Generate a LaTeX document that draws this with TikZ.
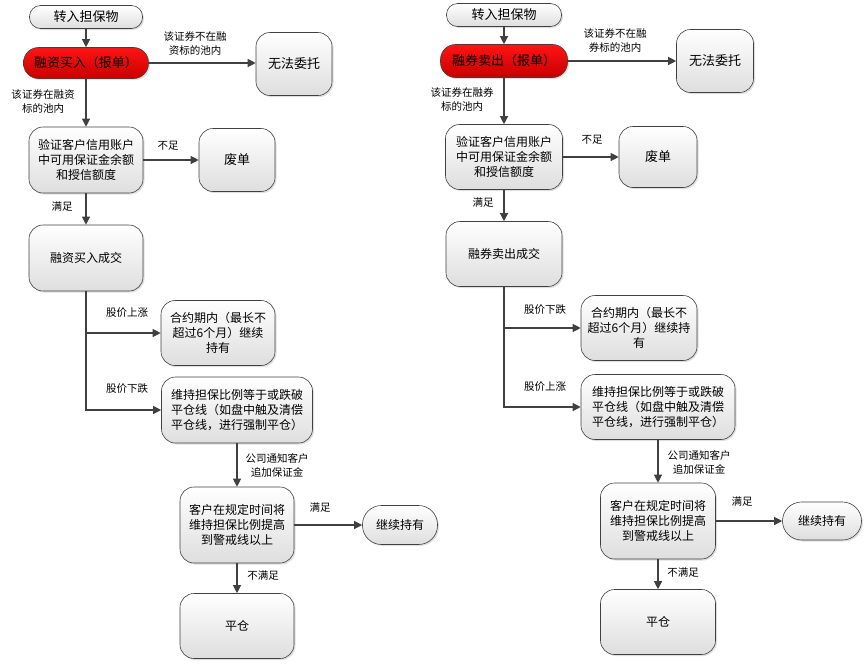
\documentclass[tikz,border=0pt]{standalone}
\usepackage{fontspec}
\setmainfont{Noto Sans CJK SC}
\usepackage{tikz}
\usetikzlibrary{arrows.meta,shapes,positioning,shadows}
\usepackage{xcolor}
\definecolor{lngray}{RGB}{64,64,64}
\definecolor{boxgray}{RGB}{222,222,222}
\definecolor{redtop}{RGB}{255,20,20}
\definecolor{redbot}{RGB}{200,0,0}
\tikzstyle{arrow} = [line width=1.2pt,->,>={Triangle[length=8pt,width=8pt]},color=lngray]
\tikzstyle{box} = [draw=lngray, text=black, line width=0.6pt, rounded corners=14pt, top color=white, bottom color=boxgray, drop shadow={opacity=0.25,shadow xshift=1.5pt,shadow yshift=-1.5pt}, align=center, font=\fontsize{12}{15}\selectfont, inner sep=1pt]
\tikzstyle{pill} = [box, rounded corners=11pt, font=\fontsize{13}{16}\selectfont]
\tikzstyle{redpill} = [pill, top color=redtop, bottom color=redbot, rounded corners=15pt, text=black, font=\fontsize{13}{16}\selectfont\color{black}]
\tikzstyle{lbl} = [align=center, text=black, font=\fontsize{10.5}{14}\selectfont, inner sep=0pt]

\begin{document}
\begin{tikzpicture}[x=1pt, y=-1pt]
\useasboundingbox (0,0) rectangle (867,665);

% ---- left column: margin buying
\node[pill, minimum width=113pt, minimum height=23pt] (startL) at (86,17) {转入担保物};
\node[redpill, minimum width=125pt, minimum height=31pt] (orderL) at (86,63) {\textcolor{black}{融资买入（报单）}};
\node[box, font=\fontsize{13}{16}\selectfont, minimum width=76pt, minimum height=63pt] (failL) at (294,64) {无法委托};
\node[box, minimum width=114pt, minimum height=66pt] (checkL) at (86,160) {验证客户信用账户\\中可用保证金余额\\和授信额度};
\node[box, font=\fontsize{13}{16}\selectfont, minimum width=76pt, minimum height=63pt] (voidL) at (237,160) {废单};
\node[box, minimum width=114pt, minimum height=66pt] (dealL) at (86,258) {融资买入成交};
\node[box, minimum width=114pt, minimum height=65pt] (holdL) at (218,333) {合约期内（最长不\\超过6个月）继续\\持有};
\node[box, minimum width=151pt, minimum height=66pt] (ratioL) at (237,410) {维持担保比例等于或跌破\\平仓线（如盘中触及清偿\\平仓线，进行强制平仓）};
\node[box, minimum width=114pt, minimum height=76pt] (topupL) at (237,525) {客户在规定时间将\\维持担保比例提高\\到警戒线以上};
\node[pill, font=\fontsize{12}{15}\selectfont, rounded corners=19pt, minimum width=75pt, minimum height=39pt] (keepL) at (400,525) {继续持有};
\node[box, minimum width=114pt, minimum height=65pt] (closeL) at (237,626) {平仓};

\node[lbl] (notinL) at (195,43) {该证券不在融\\资标的池内};
\node[lbl] (inL) at (43,101) {该证券在融资\\标的池内};
\node[lbl] (lackL) at (168,146) {不足};
\node[lbl] (okL) at (62,207) {满足};
\node[lbl] (upL) at (127,313) {股价上涨};
\node[lbl] (downL) at (127,389) {股价下跌};
\node[lbl] (callL) at (277,465) {公司通知客户\\追加保证金};
\node[lbl] (metL) at (320,507) {满足};
\node[lbl] (unmetL) at (263,575) {不满足};

\draw[arrow] (startL) -- (orderL);
\draw[arrow] (orderL.east) -- (orderL.east -| failL.west);
\draw[arrow] (orderL) -- (checkL);
\draw[arrow] (checkL) -- (voidL);
\draw[arrow] (checkL) -- (dealL);
\draw[arrow] (dealL.south) |- (holdL.west);
\draw[arrow] (dealL.south) |- (ratioL.west);
\draw[arrow] (ratioL) -- (topupL);
\draw[arrow] (topupL) -- (keepL);
\draw[arrow] (topupL) -- (closeL);

% ---- right column: short selling
\node[pill, minimum width=115pt, minimum height=23pt] (startR) at (504,15) {转入担保物};
\node[redpill, minimum width=127pt, minimum height=33pt] (orderR) at (504,61) {\textcolor{black}{融券卖出（报单）}};
\node[box, font=\fontsize{13}{16}\selectfont, minimum width=77pt, minimum height=63pt] (failR) at (715,61) {无法委托};
\node[box, minimum width=117pt, minimum height=65pt] (checkR) at (504,157) {验证客户信用账户\\中可用保证金余额\\和授信额度};
\node[box, font=\fontsize{13}{16}\selectfont, minimum width=78pt, minimum height=61pt] (voidR) at (658,157) {废单};
\node[box, minimum width=116pt, minimum height=65pt] (dealR) at (504,254) {融券卖出成交};
\node[box, minimum width=116pt, minimum height=65pt] (holdR) at (639,328) {合约期内（最长不\\超过6个月）继续持\\有};
\node[box, minimum width=154pt, minimum height=65pt] (ratioR) at (658,407) {维持担保比例等于或跌破\\平仓线（如盘中触及清偿\\平仓线，进行强制平仓）};
\node[box, minimum width=115pt, minimum height=76pt] (topupR) at (658,521) {客户在规定时间将\\维持担保比例提高\\到警戒线以上};
\node[pill, font=\fontsize{12}{15}\selectfont, rounded corners=19pt, minimum width=79pt, minimum height=38pt] (keepR) at (822,521) {继续持有};
\node[box, minimum width=115pt, minimum height=65pt] (closeR) at (658,622) {平仓};

\node[lbl] (notinR) at (615,40) {该证券不在融\\券标的池内};
\node[lbl] (inR) at (462,99) {该证券在融券\\标的池内};
\node[lbl] (lackR) at (592,140) {不足};
\node[lbl] (okR) at (483,203) {满足};
\node[lbl] (downR) at (545,310) {股价下跌};
\node[lbl] (upR) at (545,387) {股价上涨};
\node[lbl] (callR) at (699,462) {公司通知客户\\追加保证金};
\node[lbl] (metR) at (742,501) {满足};
\node[lbl] (unmetR) at (683,572) {不满足};

\draw[arrow] (startR) -- (orderR);
\draw[arrow] (orderR) -- (failR);
\draw[arrow] (orderR) -- (checkR);
\draw[arrow] (checkR) -- (voidR);
\draw[arrow] (checkR) -- (dealR);
\draw[arrow] (dealR.south) |- (holdR.west);
\draw[arrow] (dealR.south) |- (ratioR.west);
\draw[arrow] (ratioR) -- (topupR);
\draw[arrow] (topupR) -- (keepR);
\draw[arrow] (topupR) -- (closeR);
\end{tikzpicture}
\end{document}
